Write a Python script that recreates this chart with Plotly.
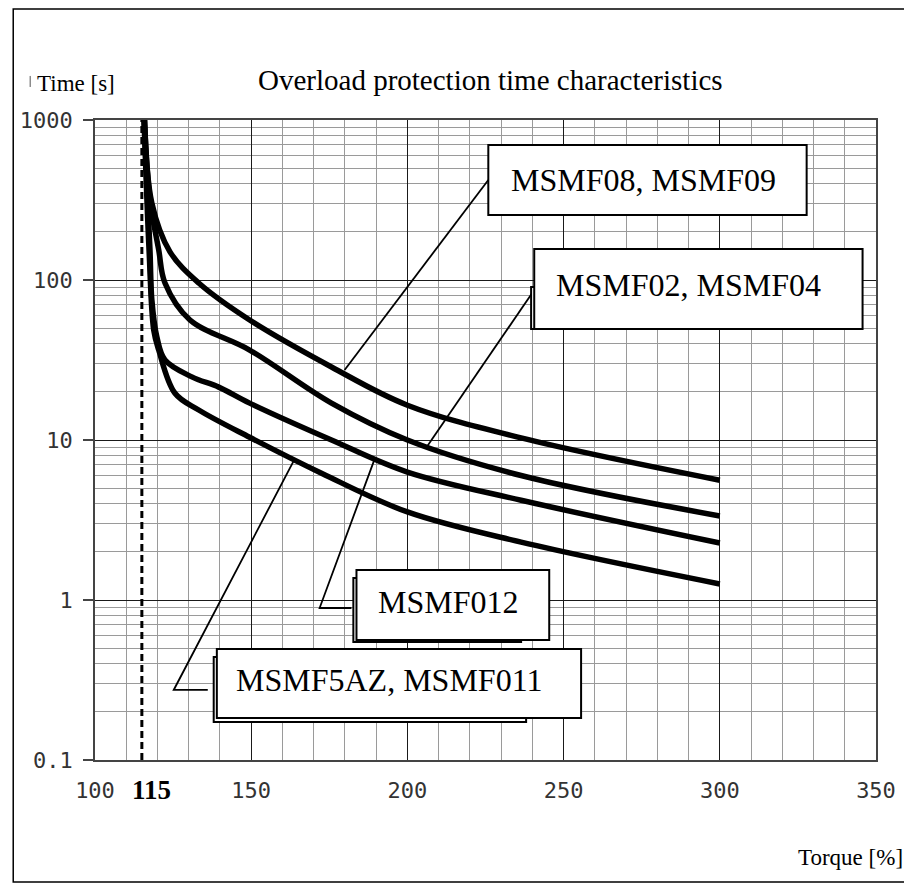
import math
import plotly.graph_objects as go

# ---------------- data ----------------
torque_08_09 = [115.9, 118.2, 124.0, 133.2, 149.5, 175.7, 200, 236.4, 300]
time_08_09 = [1000, 302, 150, 95.7, 56.2, 28.6, 16.5, 10.3, 5.6]

torque_02_04 = [115.8, 117.6, 120.4, 122.4, 130.4, 149.5, 175.7, 200, 236.4, 300]
time_02_04 = [1000, 316, 154, 95.7, 56.2, 36.5, 17.0, 10, 6.0, 3.35]

torque_012 = [115.7, 117.6, 118.2, 119.8, 122.4, 131.0, 139.6, 149.5, 175.7, 200, 236.4, 300]
time_012 = [1000, 154, 75, 44.1, 31.6, 24.8, 21.4, 17.0, 10, 6.3, 4.2, 2.27]

torque_5az_011 = [115.7, 117.3, 118.8, 120.4, 125.6, 133.2, 149.5, 172.5, 200, 236.4, 300]
time_5az_011 = [1000, 154, 48.7, 36.5, 19.6, 15.4, 10.4, 6.2, 3.55, 2.3, 1.26]

limit_torque = 115
x_tick_vals = [100, 150, 200, 250, 300, 350]
x_tick_text = ["100", "150", "200", "250", "300", "350"]
y_tick_vals = [0.1, 1, 10, 100, 1000]
y_tick_text = ["0.1", "1", "10", "100", "1000"]

series_names = ["MSMF08, MSMF09", "MSMF02, MSMF04", "MSMF012", "MSMF5AZ, MSMF011"]

# label boxes: (x0, x1, y0, y1) in data units, text centre, leader polyline, shadow box
label_boxes = [
    dict(box=(225.9, 327.8, 255, 698), text=(275.7, 422),
         leader=([225.9, 179.9], [422, 27.4]), shadow=None),
    dict(box=(240.6, 345.7, 49.4, 156), text=(290.1, 93),
         leader=([240.6, 206.4], [86.6, 9.17]), shadow=(239.6, 249.2, 49.4, 90.4)),
    dict(box=(183.7, 245.4, 0.562, 1.54), text=(213.1, 0.972),
         leader=([182.1, 171.9, 189.5], [0.891, 0.891, 7.6]), shadow=(182.7, 236.4, 0.546, 1.372)),
    dict(box=(139.0, 255.6, 0.183, 0.494), text=(194.2, 0.316),
         leader=([136.1, 125.2, 163.9], [0.274, 0.274, 7.6]), shadow=(138.0, 238.0, 0.173, 0.44)),
]

# ---------------- figure ----------------
fig = go.Figure()

serif = "Liberation Serif"
mono = "DejaVu Sans Mono"

curves = [(torque_08_09, time_08_09), (torque_02_04, time_02_04),
          (torque_012, time_012), (torque_5az_011, time_5az_011)]
for (tx, ty), name in zip(curves, series_names):
    fig.add_trace(go.Scatter(x=tx, y=ty, mode="lines", name=name,
                             line=dict(color="black", width=5.5, shape="spline", smoothing=1.0),
                             showlegend=False, hoverinfo="skip"))

# dashed limit line
fig.add_trace(go.Scatter(x=[limit_torque, limit_torque], y=[0.1, 1000], mode="lines",
                         line=dict(color="black", width=3, dash="7px,4px"),
                         showlegend=False, hoverinfo="skip"))

# leader lines
for lb in label_boxes:
    lx, ly = lb["leader"]
    fig.add_trace(go.Scatter(x=lx, y=ly, mode="lines",
                             line=dict(color="black", width=1.8),
                             showlegend=False, hoverinfo="skip"))

shapes = []
for lb, name in zip(label_boxes, series_names):
    if lb["shadow"]:
        sx0, sx1, sy0, sy1 = lb["shadow"]
        shapes.append(dict(type="rect", xref="x", yref="y", x0=sx0, x1=sx1, y0=sy0, y1=sy1,
                           fillcolor="white", line=dict(color="black", width=2), layer="above"))
    x0, x1, y0, y1 = lb["box"]
    shapes.append(dict(type="rect", xref="x", yref="y", x0=x0, x1=x1, y0=y0, y1=y1,
                       fillcolor="white", line=dict(color="black", width=2), layer="above"))

# outer frame of the picture
shapes.append(dict(type="rect", xref="paper", yref="paper",
                   x0=-0.1047, x1=1.0409, y0=-0.1906, y1=1.1734,
                   line=dict(color="black", width=1.5), fillcolor="rgba(0,0,0,0)"))
# small cursor bar before the y title
shapes.append(dict(type="line", xref="paper", yref="paper",
                   x0=-0.0830, x1=-0.0830, y0=1.0516, y1=1.0688,
                   line=dict(color="#555", width=1)))

annotations = []
for lb, name in zip(label_boxes, series_names):
    tx, ty = lb["text"]
    annotations.append(dict(x=tx, y=math.log10(ty), xref="x", yref="y", text=name,
                            showarrow=False, font=dict(family=serif, size=32, color="black"),
                            xanchor="center", yanchor="middle"))

annotations += [
    dict(text="Overload protection time characteristics", xref="paper", yref="paper",
         x=0.507, y=1.0625, showarrow=False, xanchor="center", yanchor="middle",
         font=dict(family=serif, size=29, color="black")),
    dict(text="Time [s]", xref="paper", yref="paper", x=-0.0766, y=1.0578,
         showarrow=False, xanchor="left", yanchor="middle",
         font=dict(family=serif, size=23, color="black")),
    dict(text="Torque [%]", xref="paper", yref="paper", x=1.037, y=-0.1516,
         showarrow=False, xanchor="right", yanchor="middle",
         font=dict(family=serif, size=23, color="black")),
    dict(text="<b>115</b>", xref="x", yref="paper", x=limit_torque, y=-0.047,
         xshift=10, showarrow=False, xanchor="center", yanchor="middle",
         font=dict(family=serif, size=27, color="black")),
]

fig.update_layout(
    width=904, height=879,
    margin=dict(l=85, r=36, t=112, b=127, pad=0),
    paper_bgcolor="white", plot_bgcolor="white",
    shapes=shapes, annotations=annotations,
    showlegend=False,
)

fig.update_xaxes(
    range=[100, 350], tickmode="array", tickvals=x_tick_vals, ticktext=x_tick_text,
    showgrid=True, gridcolor="#1a1a1a", gridwidth=1,
    minor=dict(dtick=10, tick0=100, showgrid=True, gridcolor="#9a9a9a", gridwidth=1),
    showline=True, linecolor="#444", linewidth=1.5, mirror=True,
    ticks="", ticklabelstandoff=10,
    tickfont=dict(family=mono, size=22, color="#333"),
    zeroline=False,
)
fig.update_yaxes(
    type="log", range=[-1, 3], tickmode="array", tickvals=y_tick_vals, ticktext=y_tick_text,
    showgrid=True, gridcolor="#1a1a1a", gridwidth=1,
    minor=dict(dtick="D1", showgrid=True, gridcolor="#9a9a9a", gridwidth=1),
    showline=True, linecolor="#444", linewidth=1.5, mirror=True,
    ticks="outside", ticklen=10, tickcolor="#444", tickwidth=1.5,
    ticklabelstandoff=6,
    tickfont=dict(family=mono, size=22, color="#333"),
    zeroline=False,
)

fig.write_html("out.html")
